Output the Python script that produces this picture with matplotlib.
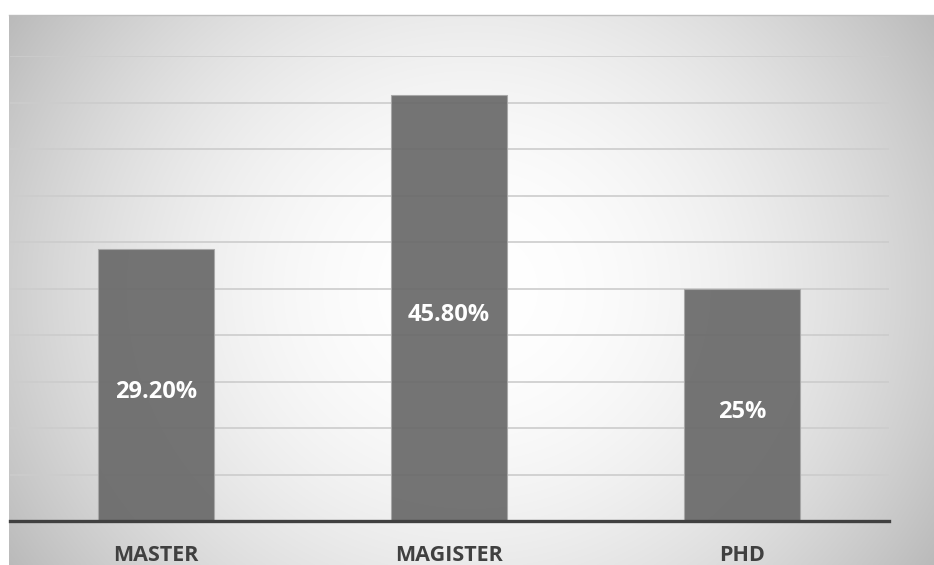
import numpy as np
import matplotlib
matplotlib.use("Agg")
import matplotlib.pyplot as plt

# Anteil nach Abschluss
categories = ["MASTER", "MAGISTER", "PHD"]
values = [29.2, 45.8, 25.0]
value_labels = ["29.20%", "45.80%", "25%"]

W, H = 934, 565
fig = plt.figure(figsize=(W / 100, H / 100), dpi=100)
fig.patch.set_facecolor("white")

# Hintergrund mit radialem Verlauf (weiss in der Mitte, grau am Rand)
bg = fig.add_axes([9 / W, 0, (W - 9) / W, (H - 15) / H], zorder=0)
nx, ny = 600, 360
xx, yy = np.meshgrid(np.linspace(-1, 1, nx), np.linspace(-1, 1, ny))
shade = 1 - 0.19 * xx ** 2 - 0.08 * yy ** 2
shade = np.clip(shade, 0, 1)
bg.imshow(np.dstack([shade] * 3), aspect="auto", extent=(0, 1, 0, 1),
          interpolation="bilinear")
bg.set_xticks([])
bg.set_yticks([])
for side in ["left", "bottom", "right"]:
    bg.spines[side].set_visible(False)
bg.spines["top"].set_color("#bdbdbd")
bg.spines["top"].set_linewidth(1.0)

# Diagrammflaeche
ax = fig.add_axes([9.5 / W, 44 / H, 879 / W, 465 / H], zorder=1)
ax.patch.set_alpha(0)

x = np.arange(len(categories))
ax.set_axisbelow(True)
ax.yaxis.grid(True, color="#cccccc", linewidth=1.2)
bars = ax.bar(x, values, width=0.395, color="#6a6a6a", alpha=0.93,
              edgecolor="#a8a8a8", linewidth=0.8, zorder=2)

for b, lab in zip(bars, value_labels):
    ax.annotate(lab, (b.get_x() + b.get_width() / 2, b.get_height() / 2),
                xytext=(0, -5), textcoords="offset points",
                ha="center", va="center", color="white", fontsize=17,
                fontweight="bold", family="Open Sans", zorder=3)

ax.axhline(0, color="#404040", linewidth=2.4, zorder=4, clip_on=False)

ax.set_xlim(-0.5, 2.5)
ax.set_ylim(0, 50)
ax.set_yticks(np.arange(5, 51, 5))
ax.set_yticklabels([])
ax.tick_params(axis="y", length=0)
ax.set_xticks(x)
ax.set_xticklabels(categories, fontsize=15.5, fontweight="bold",
                   family="Open Sans", color="#404040")
ax.tick_params(axis="x", length=0, pad=17.5)
for s in ax.spines.values():
    s.set_visible(False)

fig.savefig("out.png", dpi=100)
